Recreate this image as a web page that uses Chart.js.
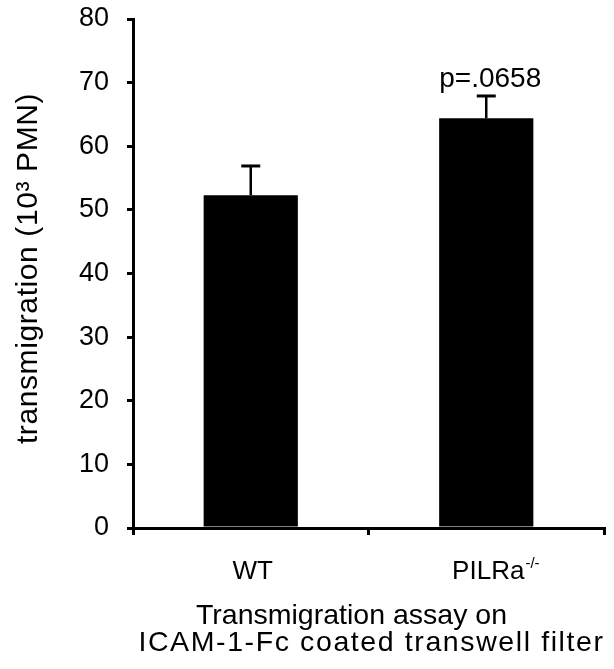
<!DOCTYPE html>
<html>
<head>
<meta charset="utf-8">
<script src="https://cdn.jsdelivr.net/npm/chart.js@4.4.0/dist/chart.umd.min.js"></script>
<style>
	body { margin: 0; background: #fff; }
	#wrap { width: 614px; height: 669px; }
</style>
</head>
<body>
<div id="wrap"><canvas id="chart"></canvas></div>
<script>
/*  Data  */
const categories = ['WT', 'PILRa'];
const categorySup = ['', '-/-'];
const values = [52.3, 64.4];
const errors = [4.6, 3.5];
const pLabels = ['', 'p=.0658'];
const yMin = 0, yMax = 80, yStep = 10;

const FONT = '"Liberation Sans", Arial, Helvetica, sans-serif';

// error bars, p value, category labels and axis titles
const extras = {
	id: 'extras',
	afterDatasetsDraw(chart) {
		let ctx = chart.ctx;
		let xs = chart.scales.x;
		let ys = chart.scales.y;
		let area = chart.chartArea;

		ctx.save();
		ctx.strokeStyle = '#000';
		ctx.fillStyle = '#000';

		for (let i = 0; i < values.length; i++) {
			let x = xs.getPixelForValue(i);
			let yBar = ys.getPixelForValue(values[i]);
			let yCap = ys.getPixelForValue(values[i] + errors[i]);

			ctx.lineWidth = 2.5;
			ctx.beginPath();
			ctx.moveTo(x, yBar);
			ctx.lineTo(x, yCap);
			ctx.stroke();

			ctx.lineWidth = 3;
			ctx.beginPath();
			ctx.moveTo(x - 9.5, yCap);
			ctx.lineTo(x + 9.5, yCap);
			ctx.stroke();

			if (pLabels[i]) {
				ctx.font = '28px ' + FONT;
				ctx.textAlign = 'center';
				ctx.textBaseline = 'alphabetic';
				ctx.fillText(pLabels[i], x + 4, yCap - 9);
			}

			// category label with optional superscript
			ctx.font = '26px ' + FONT;
			ctx.textAlign = 'center';
			ctx.textBaseline = 'alphabetic';
			let mainW = ctx.measureText(categories[i]).width;
			ctx.fillText(categories[i], x + 2, area.bottom + 51);
			if (categorySup[i]) {
				ctx.font = '15px ' + FONT;
				ctx.textAlign = 'left';
				ctx.fillText(categorySup[i], x + 2 + mainW / 2 + 1, area.bottom + 40);
			}
		}

		// x title, two lines
		let cx = (area.left + area.right) / 2;
		ctx.font = '28.5px ' + FONT;
		ctx.textAlign = 'center';
		ctx.fillText('Transmigration assay on', cx - 17, area.bottom + 96);
		ctx.letterSpacing = '1.6px';
		ctx.fillText('ICAM-1-Fc coated transwell filter', cx + 3, area.bottom + 123);

		// y title, rotated
		ctx.font = '30px ' + FONT;
		ctx.letterSpacing = '0.6px';
		ctx.translate(37, (area.top + area.bottom) / 2 - 5);
		ctx.rotate(-Math.PI / 2);
		ctx.fillText('transmigration (10\u00B3 PMN)', 0, 0);
		ctx.restore();
	}
};

let ctxB = document.getElementById('chart').getContext('2d');
let barChart = new Chart(ctxB, {
	type: 'bar',
	data: {
		labels: categories,
		datasets: [{
			data: values,
			backgroundColor: '#000',
			borderWidth: 0,
			barPercentage: 0.4,
			categoryPercentage: 1
		}]
	},
	options: {
		responsive: true,
		maintainAspectRatio: false,
		animation: false,
		layout: { padding: { top: 19, right: 10, bottom: 0, left: 0 } },
		plugins: {
			legend: { display: false },
			tooltip: { enabled: false }
		},
		scales: {
			x: {
				ticks: { display: false },
				grid: {
					drawOnChartArea: false,
					drawTicks: true,
					tickLength: 7,
					color: '#000',
					lineWidth: 3
				},
				border: { color: '#000', width: 3 },
				afterFit: function (scale) { scale.height = 141; }
			},
			y: {
				min: yMin,
				max: yMax,
				ticks: {
					stepSize: yStep,
					color: '#000',
					padding: 18,
					font: { family: FONT, size: 27 }
				},
				grid: {
					drawOnChartArea: false,
					drawTicks: true,
					tickLength: 6,
					color: '#000',
					lineWidth: 3
				},
				border: { color: '#000', width: 3 },
				afterFit: function (scale) {
					scale.width = 133;
					// the 80 label may overhang, keep the plot top where the figure has it
					scale.paddingTop = 0;
					scale.paddingBottom = 0;
				}
			}
		}
	},
	plugins: [extras]
});
</script>
</body>
</html>
